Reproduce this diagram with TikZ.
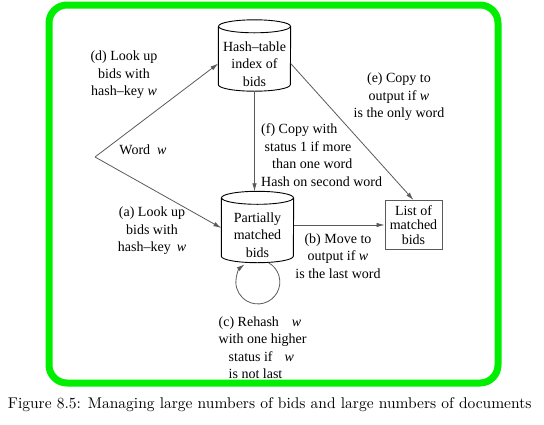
\documentclass[tikz,border=0pt]{standalone}
\usepackage{fontspec}
\usepackage{graphicx}
\newfontfamily\diafont{Liberation Serif}
\usetikzlibrary{arrows.meta}

\definecolor{framegreen}{RGB}{0,238,0}
\definecolor{linegray}{RGB}{90,90,90}

\begin{document}
\begin{tikzpicture}[
    x=1pt, y=-1pt,
    every node/.style={font=\diafont\fontsize{14}{17.5}\selectfont},
    db/.style={rectangle, minimum width=72pt, minimum height=71pt, inner sep=0pt},
    dbline/.style={draw=black, line width=0.9pt},
    lbl/.style={align=center, inner sep=0pt},
    box/.style={draw=linegray, line width=0.9pt, align=center, inner sep=1pt,
        minimum width=57pt, minimum height=49pt,
        font=\diafont\fontsize{14}{14.5}\selectfont},
    conn/.style={draw=linegray, line width=0.8pt, -{Latex[length=8pt,width=4.5pt]}},
    frame/.style={draw=framegreen, line width=7pt, rounded corners=18pt},
    figcap/.style={font=\normalfont\fontsize{10}{12}\selectfont, inner sep=0pt}
]
\useasboundingbox (0,0) rectangle (544,424);

% =========================
% Stores and output
% =========================
\node[db] (hash) at (254.5,55.5) {};
\node[lbl] (hashtext) at (254.5,64) {Hash–table\\index of\\bids};

\node[db] (partial) at (257.5,227) {};
\node[lbl] (partialtext) at (257.5,235) {Partially\\matched\\bids};

% cylinder outlines
\foreach \n in {hash,partial}
{
    % top end
    \draw[dbline] ([yshift=-6.5pt]\n.north) ellipse[x radius=36, y radius=6.5];
    % sides and bottom end
    \draw[dbline] ([yshift=-6.5pt]\n.north west) -- ([yshift=6.5pt]\n.south west)
        arc[start angle=180, end angle=0, x radius=36, y radius=6.5]
        -- ([yshift=-6.5pt]\n.north east);
}

\node[box] (list) at (413.5,225) {List of\\matched\\bids};

% incoming word
\coordinate (word) at (95,157);
\node[lbl] (wordtext) at (143,150) {Word\hspace{7pt}\textit{w}};

% =========================
% Connectors
% =========================
\draw[conn] (word) -- ([yshift=-8pt]hash.west);
\draw[conn] (word) -- ([yshift=-1pt]partial.west);
\draw[conn] (hash.south) -- (hash.south |- partial.north);
\draw[conn] ([yshift=-8pt]hash.east) -- (list.north);
\draw[conn] (partial.east |- list.west) -- (list.west);
% rehash loop
\draw[conn] ([xshift=11pt]partial.south) arc[start angle=-61, end angle=233, radius=22];

% =========================
% Labels
% =========================
\node[lbl] (lookd) at (124,75) {(d) Look up\\bids with\\hash–key \textit{w}};
\node[lbl] (looka) at (152,231) {(a) Look up\\bids with\\hash–key\hspace{6pt}\textit{w}};
\node[lbl] (copye) at (399,97) {(e) Copy to\\output if \textit{w}\\is the only word};
\node[lbl, align=left, anchor=west] (copyf) at (261,155)
    {(f) Copy with\\\hspace*{3.5pt}status 1 if more\\\hspace*{11pt}than one word\\Hash on second word};
\node[lbl] (moveb) at (338,256) {(b) Move to\\output if \textit{w}\\is the last word};
\node[lbl, align=left, anchor=west] (rehashc) at (218.5,347.5)
    {(c) Rehash\hspace{13pt}\textit{w}\\with one higher\\\hspace*{10pt}status if\hspace{12pt}\textit{w}\\\hspace*{10pt}is not last};

% =========================
% Frame and caption
% =========================
\draw[frame] (49,5) rectangle (498,383);
\node[figcap] (caption) at (269.7,405)
    {\scalebox{1.55}{Figure 8.5: Managing large numbers of bids and large numbers of documents}};

\end{tikzpicture}
\end{document}
